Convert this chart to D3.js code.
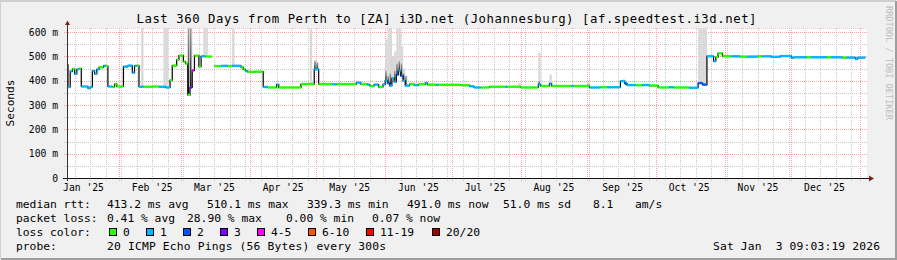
<!DOCTYPE html>
<html>
<head>
<meta charset="utf-8">
<script src="https://cdn.jsdelivr.net/npm/d3@7"></script>
<style>
  body { margin: 0; background: #f0f0f0; }
  svg { display: block; }
  text { font-family: "DejaVu Sans Mono", monospace; fill: #000; }
</style>
</head>
<body>
<svg class="chart" width="897" height="260"></svg>
<script>
// median rtt steps (value holds until next date), ms, loss colour class
const rttDate = [
  "2025-01-08","2025-01-09","2025-01-10","2025-01-11","2025-01-12","2025-01-13","2025-01-14","2025-01-15",
  "2025-01-18","2025-01-19","2025-01-20","2025-01-21","2025-01-22","2025-01-23","2025-01-25","2025-01-26",
  "2025-01-27","2025-01-29","2025-01-30","2025-01-31","2025-02-03","2025-02-05","2025-02-07","2025-02-08",
  "2025-02-09","2025-02-10","2025-02-12","2025-02-16","2025-02-19","2025-02-22","2025-02-24","2025-02-25",
  "2025-02-27","2025-02-28","2025-03-02","2025-03-03","2025-03-04","2025-03-05","2025-03-06","2025-03-07",
  "2025-03-09","2025-03-10","2025-03-12","2025-03-15","2025-03-16","2025-03-19","2025-03-22","2025-03-24",
  "2025-03-28","2025-03-29","2025-03-30","2025-03-31","2025-04-03","2025-04-07","2025-04-09","2025-04-13",
  "2025-04-14","2025-04-24","2025-04-30","2025-05-02","2025-05-08","2025-05-10","2025-05-19","2025-05-21",
  "2025-05-24","2025-05-25","2025-05-27","2025-05-29","2025-05-31","2025-06-01","2025-06-02","2025-06-03",
  "2025-06-04","2025-06-05","2025-06-06","2025-06-07","2025-06-08","2025-06-09","2025-06-10","2025-06-12",
  "2025-06-14","2025-06-16","2025-06-19","2025-06-20","2025-06-24","2025-06-25","2025-07-05","2025-07-09",
  "2025-07-11","2025-07-14","2025-07-18","2025-07-25","2025-07-26","2025-08-01","2025-08-09","2025-08-10",
  "2025-08-14","2025-08-15","2025-08-24","2025-08-25","2025-09-01","2025-09-06","2025-09-09","2025-09-15",
  "2025-09-17","2025-09-18","2025-09-22","2025-09-25","2025-09-28","2025-10-02","2025-10-07","2025-10-09",
  "2025-10-16","2025-10-20","2025-10-22","2025-10-24","2025-10-27","2025-10-28","2025-10-29","2025-10-31",
  "2025-11-04","2025-11-08","2025-11-11","2025-11-16","2025-11-18","2025-11-22","2025-11-26","2025-12-01",
  "2025-12-02","2025-12-08","2025-12-10","2025-12-17","2025-12-19","2025-12-24","2025-12-26","2025-12-30",
  "2025-12-31"
];
const rttMs = [
  465,374,438,448,428,447,450,376,
  369,374,440,428,446,455,461,460,
  376,374,386,376,458,462,433,461,
  462,375,375,376,375,372,402,462,
  486,503,478,470,342,372,442,503,
  458,500,499,null,460,461,460,461,
  455,446,440,436,437,374,372,384,
  372,386,446,386,385,386,392,386,
  384,378,384,374,385,400,390,380,
  410,395,425,440,420,400,380,386,
  382,385,390,384,383,383,381,377,
  372,372,375,375,375,372,385,378,
  388,378,378,378,372,373,373,398,
  388,382,381,382,380,372,373,372,
  371,390,384,500,480,497,512,500,
  500,499,499,500,500,498,501,494,
  496,496,496,496,496,495,495,489,
  495
];
const rttLoss = [
  1,1,1,0,1,1,0,1,
  1,1,1,1,1,0,1,0,
  1,0,0,0,1,1,1,1,
  0,1,0,0,1,1,0,0,
  0,0,0,0,0,3,4,0,
  0,1,0,0,0,1,0,1,
  0,0,1,0,0,1,0,1,
  0,0,1,0,1,0,1,0,
  1,0,1,0,1,1,2,1,
  1,1,2,1,2,1,1,0,
  1,0,1,0,1,0,0,1,
  1,0,0,1,0,0,1,0,
  1,0,1,0,1,0,1,1,
  2,1,0,1,0,0,1,0,
  1,2,2,1,1,0,0,0,
  1,0,1,0,1,1,1,1,
  1,0,1,0,1,0,1,1,
  1
];

// smoke spikes: light smoke top and dark smoke top (ms)
const smokeDate = [
  "2025-02-11","2025-02-21","2025-02-22","2025-03-04","2025-03-05","2025-03-11","2025-03-12","2025-03-24",
  "2025-04-28","2025-04-30","2025-05-01","2025-06-01","2025-06-02","2025-06-03","2025-06-04","2025-06-05",
  "2025-06-06","2025-06-07","2025-06-08","2025-06-09","2025-06-10","2025-06-19","2025-07-31","2025-08-09",
  "2025-08-14","2025-08-31","2025-09-16","2025-10-20","2025-10-21","2025-10-22","2025-10-23"
];
const smokeHigh = [
  615,615,615,615,615,615,615,615,
  612,482,475,570,615,615,500,520,
  615,615,540,450,420,395,390,514,
  425,395,405,615,615,615,615
];
const smokeDark = [
  null,null,null,615,615,null,null,null,
  null,482,475,440,420,430,415,440,
  470,480,470,430,420,null,null,398,
  390,385,400,null,null,null,null
];

const yTicks = [0, 100, 200, 300, 400, 500, 600];
const yTickLabels = ["0", "100 m", "200 m", "300 m", "400 m", "500 m", "600 m"];

const lossLabels = ["0", "1", "2", "3", "4-5", "6-10", "11-19", "20/20"];
const lossColors = ["#26ff00", "#00b8ff", "#0059ff", "#7e00ff", "#ff00ff", "#ff5500", "#ff0000", "#a10000"];

const titleText = "Last 360 Days from Perth to [ZA] i3D.net (Johannesburg) [af.speedtest.i3d.net]";
const rttStats = ["413.2 ms avg", "510.1 ms max", "339.3 ms min", "491.0 ms now", "51.0 ms sd", "8.1", "am/s"];
const lossStats = ["0.41 % avg", "28.90 % max", "0.00 % min", "0.07 % now"];
const probeText = "20 ICMP Echo Pings (56 Bytes) every 300s";
const stampText = "Sat Jan  3 09:03:19 2026";

const drawChart = () => {
  const svg = d3.select(".chart");
  const W = 897, H = 260;
  const left = 67, right = 867, top = 28, bottom = 178;

  const parse = d3.utcParse("%Y-%m-%d");
  const start = d3.utcParse("%Y-%m-%dT%H:%M:%S")("2025-01-08T09:03:19");
  const end = d3.utcParse("%Y-%m-%dT%H:%M:%S")("2026-01-03T09:03:19");

  const xScale = d3.scaleUtc().domain([start, end]).range([66.6, 865.3]);
  const yScale = d3.scaleLinear().domain([0, 600]).range([178, 32]);

  // background and frame
  svg.append("rect").attr("width", W).attr("height", H).attr("fill", "#f0f0f0");
  svg.append("path").attr("d", `M0,${H - 1}V1H${W - 1}`).attr("stroke", "#cfcfcf").attr("stroke-width", 2).attr("fill", "none");
  svg.append("path").attr("d", `M1,${H - 1}H${W - 1}V1`).attr("stroke", "#9e9e9e").attr("stroke-width", 2).attr("fill", "none");

  svg.append("rect")
    .attr("x", left).attr("y", top)
    .attr("width", right - left).attr("height", bottom - top)
    .attr("fill", "#ffffff");

  // grid
  const grid = svg.append("g").attr("fill", "none").attr("stroke-dasharray", "1,1");
  const crisp = v => Math.round(v) + 0.5;

  const minorY = d3.range(50, 601, 100);
  grid.selectAll(".gy").data(minorY).join("line")
    .attr("x1", left - 3).attr("x2", right)
    .attr("y1", d => crisp(yScale(d))).attr("y2", d => crisp(yScale(d)))
    .attr("stroke", "#c8c8c8");
  grid.append("line")
    .attr("x1", left).attr("x2", right).attr("y1", top + 0.5).attr("y2", top + 0.5)
    .attr("stroke", "#f0c0c0");

  const months = d3.utcMonth.range(start, end);
  const monthKeys = months.map(d => +d);
  const weeks = d3.utcSunday.range(start, end).filter(d => !monthKeys.includes(+d));
  grid.selectAll(".gx").data(weeks).join("line")
    .attr("x1", d => crisp(xScale(d))).attr("x2", d => crisp(xScale(d)))
    .attr("y1", top).attr("y2", bottom + 3)
    .attr("stroke", "#c8c8c8");

  grid.selectAll(".my").data(yTicks).join("line")
    .attr("x1", left - 3).attr("x2", right)
    .attr("y1", d => crisp(yScale(d))).attr("y2", d => crisp(yScale(d)))
    .attr("stroke", "#ff9f9f");
  grid.selectAll(".mx").data(months).join("line")
    .attr("x1", d => crisp(xScale(d))).attr("x2", d => crisp(xScale(d)))
    .attr("y1", top).attr("y2", bottom + 3)
    .attr("stroke", "#ff9f9f");

  // data
  const rows = rttDate.map((d, i) => ({ date: parse(d), ms: rttMs[i], loss: rttLoss[i] }));
  rows.forEach((r, i) => { r.next = i < rows.length - 1 ? rows[i + 1].date : end; });
  const lineRows = rows.concat([{ date: end, ms: rows[rows.length - 1].ms }]);

  svg.append("clipPath").attr("id", "plot-clip")
    .append("rect").attr("x", left).attr("y", top).attr("width", right - left).attr("height", bottom - top);
  const plot = svg.append("g").attr("clip-path", "url(#plot-clip)");

  const grad = svg.append("defs").append("linearGradient")
    .attr("id", "dark-smoke").attr("x1", 0).attr("y1", 1).attr("x2", 0).attr("y2", 0);
  grad.append("stop").attr("offset", "0%").attr("stop-color", "#151515");
  grad.append("stop").attr("offset", "100%").attr("stop-color", "#a0a0a0");

  const bisect = d3.bisector(d => d.date).right;
  const medianAt = date => {
    const r = rows[Math.max(0, bisect(rows, date) - 1)];
    return r.ms == null ? 400 : r.ms;
  };
  const smoke = smokeDate.map((d, i) => ({ date: parse(d), high: smokeHigh[i], dark: smokeDark[i] }));
  const dayW = d => xScale(d3.utcDay.offset(d, 1)) - xScale(d);

  plot.selectAll(".smoke").data(smoke).join("rect")
    .attr("x", d => xScale(d.date)).attr("width", d => dayW(d.date) + 0.1)
    .attr("y", d => yScale(d.high))
    .attr("height", d => Math.max(0, yScale(medianAt(d.date)) - yScale(d.high)))
    .attr("fill", "#d8d8d8");

  plot.selectAll(".smoke-dark").data(smoke.filter(d => d.dark != null)).join("rect")
    .attr("x", d => xScale(d.date)).attr("width", 1.4)
    .attr("y", d => yScale(d.dark))
    .attr("height", d => Math.max(0, yScale(medianAt(d.date)) - yScale(d.dark)))
    .attr("fill", "url(#dark-smoke)");

  const median = d3.line()
    .defined(d => d.ms != null)
    .x(d => xScale(d.date))
    .y(d => yScale(d.ms))
    .curve(d3.curveStepAfter);

  plot.append("path")
    .datum(lineRows)
    .attr("fill", "none")
    .attr("stroke", "#000000")
    .attr("stroke-width", 1.2)
    .attr("d", median);

  plot.selectAll(".seg").data(rows.filter(d => d.ms != null)).join("line")
    .attr("x1", d => xScale(d.date)).attr("x2", d => xScale(d.next))
    .attr("y1", d => yScale(d.ms)).attr("y2", d => yScale(d.ms))
    .attr("stroke", d => lossColors[d.loss])
    .attr("stroke-width", 2.4);

  // axes
  svg.append("line").attr("x1", left - 4).attr("x2", right + 3).attr("y1", bottom + 0.5).attr("y2", bottom + 0.5)
    .attr("stroke", "#111111");
  svg.append("line").attr("x1", left + 0.5).attr("x2", left + 0.5).attr("y1", bottom + 3).attr("y2", top - 4)
    .attr("stroke", "#333333");
  svg.append("path").attr("d", `M${right + 2},${bottom - 2.5}L${right + 7},${bottom + 0.5}L${right + 2},${bottom + 3.5}Z`)
    .attr("fill", "#7f1f1f");
  svg.append("path").attr("d", `M${left - 2},${top - 3}L${left + 0.5},${top - 7.5}L${left + 3},${top - 3}Z`)
    .attr("fill", "#7f1f1f");

  svg.selectAll(".ylab").data(yTicks).join("text")
    .attr("x", 58).attr("y", d => yScale(d) + 3.5)
    .attr("text-anchor", "end")
    .style("font-size", "9.7px")
    .text((d, i) => yTickLabels[i]);

  const labelMonths = d3.utcMonth.range(d3.utcMonth.floor(start), end)
    .map(d => d3.utcDay.offset(d, 15))
    .filter(d => d >= start && d <= end);
  svg.selectAll(".xlab").data(labelMonths).join("text")
    .attr("x", d => xScale(d)).attr("y", 191)
    .attr("text-anchor", "middle")
    .style("font-size", "9.7px")
    .text(d => d3.utcFormat("%b '%y")(d));

  svg.append("text")
    .attr("transform", "translate(14,103) rotate(-90)")
    .attr("text-anchor", "middle")
    .style("font-size", "11.1px")
    .text("Seconds");

  svg.append("text")
    .attr("x", 136.5).attr("y", 23)
    .attr("textLength", 620).attr("lengthAdjust", "spacing")
    .style("font-size", "12.3px")
    .text(titleText);

  svg.append("text")
    .attr("transform", "translate(886,6) rotate(90)")
    .style("font-size", "8.6px")
    .style("fill", "#bdbdbd")
    .text("RRDTOOL / TOBI OETIKER");

  // legend
  const legend = svg.append("g").style("font-size", "11.3px");
  legend.append("text").attr("x", 16).attr("y", 208).text("median rtt:");
  const rttX = [107, 207, 307, 407, 503, 593, 635];
  legend.selectAll(".rs").data(rttStats).join("text")
    .attr("x", (d, i) => rttX[i]).attr("y", 208).text(d => d);

  legend.append("text").attr("x", 16).attr("y", 222).text("packet loss:");
  const lossX = [107, 187, 286, 372];
  legend.selectAll(".ls").data(lossStats).join("text")
    .attr("x", (d, i) => lossX[i]).attr("y", 222).text(d => d);

  legend.append("text").attr("x", 16).attr("y", 236).text("loss color:");
  const keyX = [123, 160, 197, 234, 271, 322, 380, 446];
  legend.selectAll(".lb").data(lossLabels).join("rect")
    .attr("x", (d, i) => keyX[i] - 14 + 0.5).attr("y", 228.5)
    .attr("width", 7).attr("height", 7)
    .attr("fill", (d, i) => lossColors[i])
    .attr("stroke", "#000000");
  legend.selectAll(".lt").data(lossLabels).join("text")
    .attr("x", (d, i) => keyX[i]).attr("y", 236).text(d => d);

  legend.append("text").attr("x", 16).attr("y", 250).text("probe:");
  legend.append("text").attr("x", 107).attr("y", 250).attr("textLength", 279).attr("lengthAdjust", "spacing").text(probeText);
  legend.append("text").attr("x", 713).attr("y", 250)
    .attr("xml:space", "preserve")
    .attr("textLength", 167).attr("lengthAdjust", "spacing")
    .text(stampText);
};

drawChart();
</script>
</body>
</html>
